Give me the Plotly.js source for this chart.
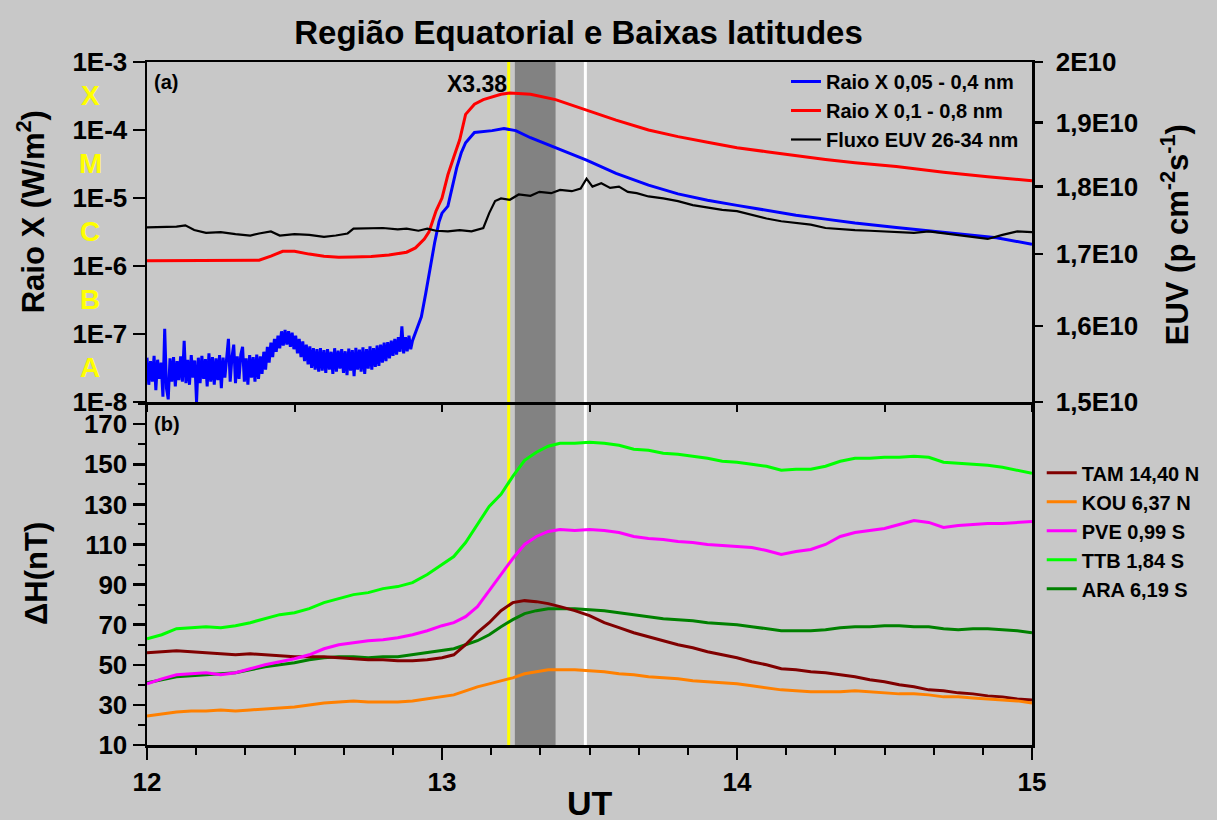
<!DOCTYPE html>
<html><head><meta charset="utf-8">
<script src="https://cdn.plot.ly/plotly-3.0.1.min.js"></script>
<style>html,body{margin:0;padding:0;background:#c8c8c8;} #chart{width:1217px;height:820px;}</style>
</head><body><div id="chart"></div>
<script>
// ---------- Panel (a): X-ray flux and EUV ----------
// Noisy low-level part of the 0.05-0.4 nm channel (values in units of 1E-8 W/m2), sampled every 0.006 h from 12.0 UT
const blueNoiseStart = 12.0;
const blueNoiseStep = 0.006;
const blueNoise1e8 = [
 4.5,1.8,4.0,2.0,4.8,1.5,4.2,2.2,3.8,1.2,
 12.0,1.6,1.1,4.4,2.0,4.6,1.7,4.0,2.1,4.7,
 2.0,8.0,1.9,4.2,1.8,4.9,2.3,4.1,1.0,4.5,
 1.9,4.8,2.2,4.3,1.7,5.2,2.0,4.6,1.8,4.4,
 2.1,4.9,1.6,4.5,2.3,4.8,8.5,2.0,4.6,7.0,
 1.9,4.7,2.2,5.0,6.5,2.0,4.4,1.8,4.9,2.3,
 4.6,2.0,5.0,2.2,4.7,2.6,5.5,3.0,6.5,3.8,
 7.5,4.6,8.5,5.5,9.5,6.2,11.0,6.8,11.5,7.0,
 11.0,6.5,10.5,6.0,9.5,5.2,8.5,4.6,7.8,4.0,
 7.0,3.6,6.6,3.2,6.2,3.0,6.0,2.8,6.2,2.9,
 5.8,2.7,6.0,3.0,5.5,2.6,6.2,2.8,5.7,3.1,
 6.0,2.7,5.6,2.5,6.1,2.9,5.8,2.4,6.3,3.0,
 5.9,2.8,6.4,2.6,6.0,3.1,6.6,3.0,6.2,3.3,
 6.8,3.4,7.0,3.8,7.5,4.0,7.6,4.4,8.0,4.8,
 8.5,5.0,9.0,5.5,13.0,5.2,9.0,5.6,9.5,6.0
];
const blueT = [12.90,12.915,12.93,12.945,12.96,12.975,12.99,13.00,13.02,13.035,13.05,13.065,13.08,13.11,13.17,13.21,13.25,13.30,13.385,13.49,13.59,13.70,13.80,13.90,14.00,14.10,14.20,14.30,14.40,14.54,14.70,14.88,15.00];
const blueV = [8e-8,1.2e-7,1.8e-7,4e-7,1e-6,2.2e-6,4.5e-6,6e-6,7.6e-6,1.4e-5,2.8e-5,4.6e-5,6.5e-5,9.2e-5,9.8e-5,1.05e-4,9.8e-5,7.7e-5,5.5e-5,3.6e-5,2.3e-5,1.55e-5,1.15e-5,9.3e-6,7.8e-6,6.6e-6,5.6e-6,4.9e-6,4.3e-6,3.7e-6,3.1e-6,2.6e-6,2.1e-6];

const redT = [12.00,12.10,12.20,12.30,12.38,12.42,12.46,12.50,12.55,12.60,12.65,12.70,12.76,12.82,12.88,12.91,12.94,12.956,12.98,13.00,13.02,13.04,13.06,13.08,13.11,13.14,13.17,13.20,13.23,13.26,13.30,13.385,13.49,13.59,13.70,13.80,13.90,14.00,14.10,14.20,14.30,14.40,14.54,14.70,14.85,15.00];
const redV = [1.2e-6,1.2e-6,1.2e-6,1.21e-6,1.22e-6,1.4e-6,1.65e-6,1.65e-6,1.5e-6,1.4e-6,1.35e-6,1.36e-6,1.38e-6,1.45e-6,1.6e-6,1.85e-6,2.5e-6,3.2e-6,6.5e-6,1e-5,2.2e-5,4e-5,7.2e-5,1.7e-4,2.4e-4,2.8e-4,3.1e-4,3.35e-4,3.5e-4,3.45e-4,3.35e-4,2.8e-4,1.95e-4,1.4e-4,1.0e-4,8e-5,6.6e-5,5.5e-5,4.8e-5,4.2e-5,3.7e-5,3.3e-5,2.9e-5,2.4e-5,2.05e-5,1.8e-5];

const euvT = [12.00,12.05,12.10,12.13,12.16,12.20,12.25,12.30,12.35,12.38,12.42,12.45,12.50,12.55,12.60,12.64,12.68,12.70,12.75,12.80,12.85,12.88,12.92,12.95,12.98,13.02,13.06,13.10,13.14,13.16,13.18,13.20,13.23,13.26,13.30,13.33,13.37,13.40,13.44,13.47,13.49,13.51,13.54,13.57,13.60,13.63,13.66,13.70,13.75,13.80,13.85,13.90,13.95,14.00,14.05,14.10,14.15,14.20,14.25,14.30,14.35,14.40,14.45,14.50,14.55,14.60,14.65,14.70,14.75,14.80,14.85,14.90,14.95,15.00];
const euvV = [1.739e10,1.739e10,1.740e10,1.742e10,1.735e10,1.731e10,1.732e10,1.729e10,1.727e10,1.730e10,1.733e10,1.727e10,1.729e10,1.728e10,1.725e10,1.727e10,1.730e10,1.737e10,1.737e10,1.738e10,1.736e10,1.737e10,1.734e10,1.737e10,1.734e10,1.733e10,1.735e10,1.733e10,1.738e10,1.760e10,1.778e10,1.782e10,1.780e10,1.788e10,1.786e10,1.792e10,1.790e10,1.795e10,1.793e10,1.797e10,1.812e10,1.800e10,1.805e10,1.798e10,1.800e10,1.792e10,1.790e10,1.785e10,1.782e10,1.778e10,1.772e10,1.768e10,1.765e10,1.763e10,1.757e10,1.752e10,1.748e10,1.745e10,1.743e10,1.738e10,1.736e10,1.735e10,1.734e10,1.733e10,1.733e10,1.731e10,1.733e10,1.730e10,1.728e10,1.724e10,1.722e10,1.728e10,1.733e10,1.732e10];

// ---------- Panel (b): Delta H (nT) ----------
const tMag = [12.00,12.05,12.10,12.15,12.20,12.25,12.30,12.35,12.40,12.45,12.50,12.55,12.60,12.65,12.70,12.75,12.80,12.85,12.90,12.95,13.00,13.04,13.08,13.12,13.16,13.20,13.24,13.28,13.32,13.36,13.40,13.45,13.50,13.55,13.60,13.65,13.70,13.75,13.80,13.85,13.90,13.95,14.00,14.05,14.10,14.15,14.20,14.25,14.30,14.35,14.40,14.45,14.50,14.55,14.60,14.65,14.70,14.75,14.80,14.85,14.90,14.95,15.00];
const tam = [56,56.5,57,56.5,56,55.5,55,55.5,55,54.5,54,54,54,53.5,53,52.5,52.5,52,52,52.5,53.5,55,60,66,71,77,81,82,81.5,80.5,79,77,74.5,71,68.5,66,64,62,60,58.5,56.5,55,53.5,51.5,50,48,47.5,46.5,46,45,44,42.5,41.5,40,39,37.5,37,36,35.5,34.5,34,33,32.5];
const kou = [24.5,25.5,26.5,27,27,27.5,27,27.5,28,28.5,29,30,31,31.5,32,31.5,31.5,31.5,32,33,34,35,37,39,40.5,42,43.5,45.5,46.5,47.5,47.5,47.5,47,46.5,45.5,45,44,43.5,43,42,41.5,41,40.5,39.5,38.5,37.5,37,36.5,36.5,36.5,37,36.5,36,35.5,35.5,35,34,34,33.5,33,32.5,32,31];
const pve = [40.5,43,45,45.5,46,45,46,48,50,51.5,53,55,58,60,61,62,62.5,63.5,65,67,69.5,71,74,79,87,95,103,110,114,116.5,117.5,117,117.5,117,116,114,113,112.5,111.5,111,110,109.5,109,108.5,107,105,106.5,107.5,110,114,116,117,118,120,122,121,118.5,119.5,120,120.5,120.5,121,121.5];
const ttb = [63,65,68,68.5,69,68.5,69.5,71,73,75,76,78,81,83,85,86,88,89,91,95,100,104,111,120,129,135,144,152,156,159,160.5,160.5,161,160.5,159.5,157.5,157,155.5,155,154,153,151.5,151,150,149,147,147.5,147.5,149,151.5,153,153,153.5,153.5,154,153.5,151,150.5,150,149.5,148.5,147,145.5];
const ara = [41,42.5,44,44.5,45,45.5,46,47.5,49,50,51,52.5,53.5,54,54,53.5,54,54,55,56,57,58,60,62,65,69,72.5,75.5,77,78,78,78,77.5,77,76,75,74,73,72.5,72,71,70.5,70,69,68,67,67,67,67.5,68.5,69,69,69.5,69.5,69,69,68,67.5,68,68,67.5,67,66];

// ---------- Labels ----------
const chartTitle = 'Região Equatorial e Baixas latitudes';
const xrayTickVals = [1e-8,1e-7,1e-6,1e-5,1e-4,1e-3];
const xrayTickText = ['1E-8','1E-7','1E-6','1E-5','1E-4','1E-3'];
const euvTickVals = [1.5e10,1.6e10,1.7e10,1.8e10,1.9e10,2e10];
const euvTickText = ['1,5E10','1,6E10','1,7E10','1,8E10','1,9E10','2E10'];
const flareClasses = ['X','M','C','B','A'];
const flareClassLevels = [3.2e-4,3.2e-5,3.2e-6,3.2e-7,3.2e-8];
const flareLabel = 'X3.38';
const flarePeakLine = 13.226;      // yellow line (UT)
const shadeStart = 13.247, shadeEnd = 13.385; // grey band (UT)
const whiteLine = 13.486;          // white line (UT)

// ---------- Build traces ----------
const blueAllT = [], blueAllV = [];
blueNoise1e8.forEach((v, i) => { blueAllT.push(blueNoiseStart + i * blueNoiseStep); blueAllV.push(v * 1e-8); });
blueT.forEach((t, i) => { blueAllT.push(t); blueAllV.push(blueV[i]); });

const F = 'Liberation Sans, Arial, Helvetica, sans-serif';

const traces = [
  {x: blueAllT, y: blueAllV, xaxis:'x2', yaxis:'y2', mode:'lines', name:'Raio X 0,05 - 0,4 nm', line:{color:'#0000ff', width:3}, legend:'legend'},
  {x: redT, y: redV, xaxis:'x2', yaxis:'y2', mode:'lines', name:'Raio X 0,1 - 0,8 nm', line:{color:'#ff0000', width:3}, legend:'legend'},
  {x: euvT, y: euvV, xaxis:'x2', yaxis:'y3', mode:'lines', name:'Fluxo EUV 26-34 nm', line:{color:'#000000', width:2.2}, legend:'legend'},
  {x: tMag, y: ara, xaxis:'x', yaxis:'y', mode:'lines', name:'ARA 6,19 S', line:{color:'#008000', width:3}, legend:'legend2', legendrank:5},
  {x: tMag, y: tam, xaxis:'x', yaxis:'y', mode:'lines', name:'TAM 14,40 N', line:{color:'#800000', width:3}, legend:'legend2', legendrank:1},
  {x: tMag, y: kou, xaxis:'x', yaxis:'y', mode:'lines', name:'KOU 6,37 N', line:{color:'#ff8000', width:3}, legend:'legend2', legendrank:2},
  {x: tMag, y: pve, xaxis:'x', yaxis:'y', mode:'lines', name:'PVE 0,99 S', line:{color:'#ff00ff', width:3}, legend:'legend2', legendrank:3},
  {x: tMag, y: ttb, xaxis:'x', yaxis:'y', mode:'lines', name:'TTB 1,84 S', line:{color:'#00ff00', width:3}, legend:'legend2', legendrank:4}
];

const yTopDomain = 0.502;

const annotations = [
  {text:'(a)', xref:'paper', yref:'paper', x:0.006, y:0.971, xanchor:'left', yanchor:'middle', showarrow:false, font:{size:20, weight:'bold', family:F}},
  {text:'(b)', xref:'paper', yref:'paper', x:0.006, y:0.470, xanchor:'left', yanchor:'middle', showarrow:false, font:{size:20, weight:'bold', family:F}},
  {text:flareLabel, xref:'paper', yref:'paper', x:0.3727, y:0.968, xanchor:'center', yanchor:'middle', showarrow:false, font:{size:23, weight:'bold', family:F}},
  {text:'Raio X (W/m<sup>2</sup>)', xref:'paper', yref:'paper', x:-0.131, y:0.780, xanchor:'center', yanchor:'middle', textangle:-90, showarrow:false, font:{size:31, weight:'bold', family:F}},
  {text:'ΔH(nT)', xref:'paper', yref:'paper', x:-0.125, y:0.251, xanchor:'center', yanchor:'middle', textangle:-90, showarrow:false, font:{size:31, weight:'bold', family:F}},
  {text:'EUV (p cm<sup>-2</sup>s<sup>-1</sup>)', xref:'paper', yref:'paper', x:1.161, y:0.747, xanchor:'center', yanchor:'middle', textangle:-90, showarrow:false, font:{size:31, weight:'bold', family:F}},
  {text:'UT', xref:'paper', yref:'paper', x:0.5, y:-0.085, xanchor:'center', yanchor:'middle', showarrow:false, font:{size:34, weight:'bold', family:F}}
];
flareClasses.forEach((c, i) => {
  annotations.push({text:c, xref:'paper', yref:'y2', x:-0.064, y:Math.log10(flareClassLevels[i]), xanchor:'center', yanchor:'middle', showarrow:false, font:{size:28, weight:'bold', family:F, color:'#ffff00'}});
});

const layout = {
  width:1217, height:820,
  paper_bgcolor:'#c8c8c8', plot_bgcolor:'rgba(0,0,0,0)',
  margin:{l:147, r:182, t:62, b:75, pad:0},
  font:{family:F, color:'#000'},
  showlegend:true,
  title:{text:chartTitle, font:{size:33, weight:'bold', family:F, color:'#000'}, xref:'paper', x:0.4876, xanchor:'center', yref:'container', y:0.96, yanchor:'middle'},
  xaxis:{domain:[0,1], anchor:'y', range:[12,15], tickmode:'linear', tick0:12, dtick:1, ticks:'outside', ticklen:12, tickwidth:2.5, tickcolor:'#000',
         showline:true, linewidth:2.5, linecolor:'#000', showgrid:false, zeroline:false, tickfont:{size:26, weight:'bold', family:F},
         minor:{tick0:12, dtick:1/6, ticks:'outside', ticklen:7, tickwidth:2, tickcolor:'#000', showgrid:false}},
  xaxis2:{anchor:'y2', matches:'x', range:[12,15], tickmode:'linear', tick0:12, dtick:0.5, ticks:'outside', ticklen:7, tickwidth:2, tickcolor:'#000',
          showticklabels:false, showline:true, mirror:true, linewidth:2.5, linecolor:'#000', showgrid:false, zeroline:false},
  yaxis:{domain:[0,yTopDomain], anchor:'x', range:[10,181], tickmode:'linear', tick0:10, dtick:20, ticks:'outside', ticklen:12, tickwidth:2.5, tickcolor:'#000',
         showline:true, mirror:true, linewidth:2.5, linecolor:'#000', showgrid:false, zeroline:false, tickfont:{size:26, weight:'bold', family:F},
         minor:{tick0:10, dtick:10, ticks:'outside', ticklen:7, tickwidth:2, tickcolor:'#000', showgrid:false}},
  yaxis2:{domain:[yTopDomain,1], anchor:'x2', type:'log', range:[-8,-3], tickmode:'array', tickvals:xrayTickVals, ticktext:xrayTickText,
          ticks:'outside', ticklen:12, tickwidth:2.5, tickcolor:'#000', showline:true, linewidth:2.5, linecolor:'#000', showgrid:false, zeroline:false,
          tickfont:{size:26, weight:'bold', family:F}},
  yaxis3:{overlaying:'y2', anchor:'x2', side:'right', type:'log', range:[Math.log10(1.5e10), Math.log10(2e10)], tickmode:'array', tickvals:euvTickVals, ticktext:euvTickText,
          ticks:'outside', ticklen:8, tickwidth:2.5, tickcolor:'#000', showline:true, linewidth:2.5, linecolor:'#000', showgrid:false, zeroline:false,
          ticklabelstandoff:8, tickfont:{size:26, weight:'bold', family:F}},
  legend:{x:0.722, xanchor:'left', y:1.0, yanchor:'top', bgcolor:'rgba(0,0,0,0)', borderwidth:0, font:{size:20, weight:'bold', family:F}, tracegroupgap:0},
  legend2:{x:1.011, xanchor:'left', y:0.427, yanchor:'top', bgcolor:'rgba(0,0,0,0)', borderwidth:0, font:{size:20, weight:'bold', family:F}, tracegroupgap:0},
  shapes:[
    {type:'rect', xref:'x', yref:'paper', x0:shadeStart, x1:shadeEnd, y0:0, y1:1, fillcolor:'#828282', line:{width:0}, layer:'below'},
    {type:'line', xref:'x', yref:'paper', x0:flarePeakLine, x1:flarePeakLine, y0:0, y1:1, line:{color:'#ffff00', width:3}, layer:'below'},
    {type:'line', xref:'x', yref:'paper', x0:whiteLine, x1:whiteLine, y0:0, y1:1, line:{color:'#ffffff', width:3}, layer:'below'}
  ],
  annotations: annotations
};

Plotly.newPlot('chart', traces, layout, {displayModeBar:false, staticPlot:true});
</script></body></html>
